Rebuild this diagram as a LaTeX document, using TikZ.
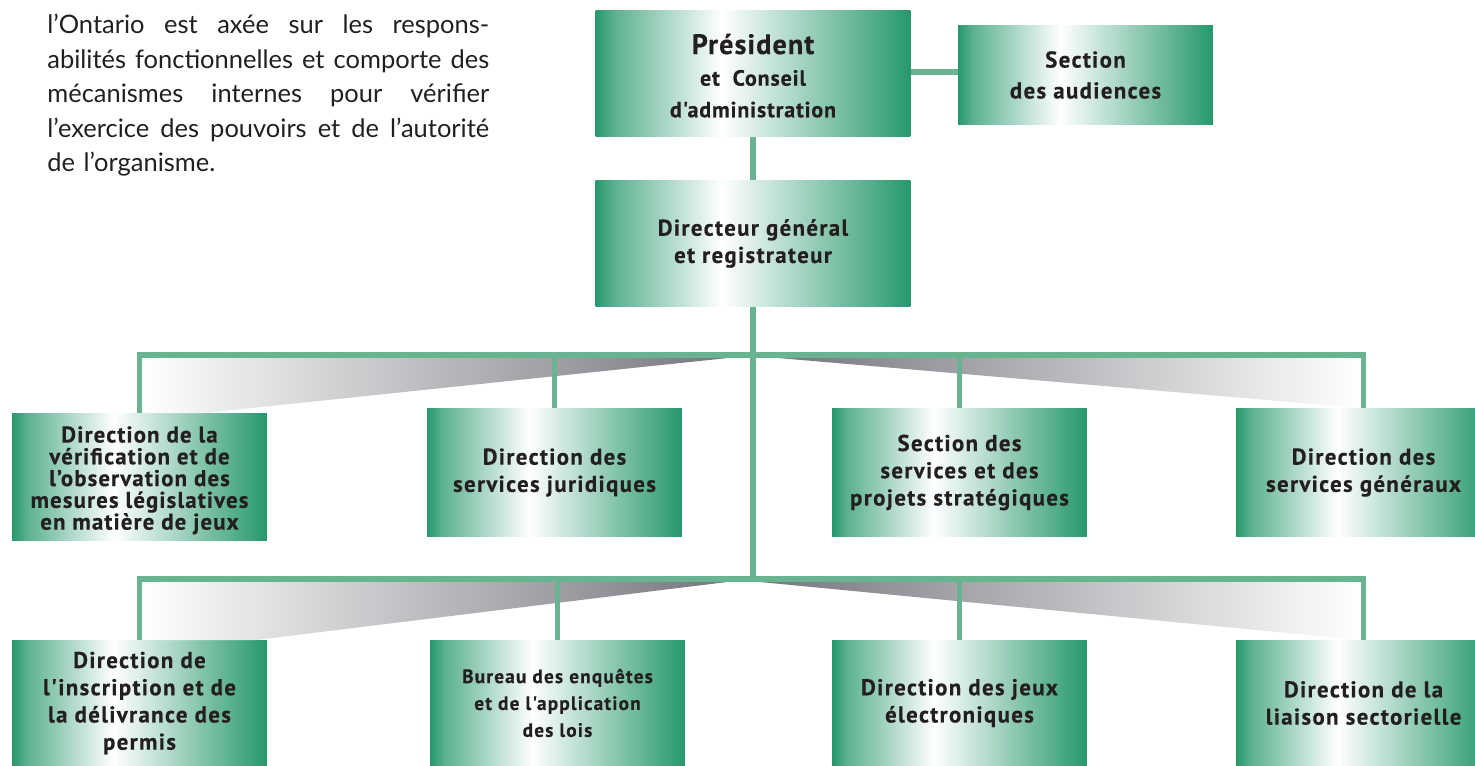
\documentclass[tikz,border=0pt]{standalone}
\usepackage{fontspec}
\setmainfont{Lato}
\newfontfamily\boxfont{PT Sans}
\usetikzlibrary{positioning}

\definecolor{boxgreen}{RGB}{38,152,108}
\definecolor{linkgreen}{RGB}{107,178,145}
\definecolor{inkgrey}{RGB}{35,31,32}
\definecolor{shadegrey}{RGB}{118,118,126}
\pgfdeclarehorizontalshading{boxshade}{100bp}{color(0bp)=(boxgreen); color(25bp)=(boxgreen); color(28bp)=(boxgreen!75!white); color(45bp)=(white); color(75bp)=(boxgreen); color(100bp)=(boxgreen)}
\newcommand\fullline[1]{\makebox[8.84cm][s]{\spaceskip=0.25em plus 1fil\relax #1}}

\begin{document}
\begin{tikzpicture}[x=0.02cm,y=-0.02cm,
  orgbox/.style={shading=boxshade, minimum width=5.1cm, minimum height=2.58cm,
    inner sep=0pt, align=center, text=inkgrey,
    font=\boxfont\bfseries\addfontfeatures{LetterSpace=6,FakeBold=0.4}\fontsize{13}{15.5}\selectfont},
  link/.style={draw=linkgreen, line width=3.4pt}]
 \useasboundingbox (0,0) rectangle (1475,765);
 % intro text
 \node[anchor=north west, inner sep=0pt, text width=8.84cm, align=left, text=inkgrey,
   font=\fontsize{14.5}{19.6}\selectfont] (intro) at (47,14)
   {\fullline{l’Ontario est axée sur les respons-}\\
    \fullline{abilités fonctionnelles et comporte des}\\
    \fullline{mécanismes internes pour vérifier}\\
    \fullline{l’exercice des pouvoirs et de l’autorité}\\
    de l’organisme.};
 % top of the chart
 \node[orgbox, minimum width=6.3cm, minimum height=2.54cm,
   font=\boxfont\bfseries\addfontfeatures{LetterSpace=4,FakeBold=0.4}\fontsize{12.5}{18}\selectfont]
   (pres) at (753,73.5)
   {\rule{0pt}{14pt}{\fontsize{16}{20}\selectfont Président}\\et\ \ Conseil\\d'administration};
 \node[orgbox, minimum height=2cm,
   font=\boxfont\bfseries\addfontfeatures{LetterSpace=6,FakeBold=0.4}\fontsize{13}{17.6}\selectfont]
   (aud) at (1085.5,75) {Section\\des audiences};
 \node[orgbox, minimum width=6.3cm, minimum height=2.54cm] (dg) at (753,243.5)
   {Directeur général\\et registrateur};
 % first row
 \node[orgbox, minimum height=2.56cm,
   font=\boxfont\bfseries\addfontfeatures{LetterSpace=5,FakeBold=0.4}\fontsize{13}{12.4}\selectfont]
   (d1) at (139.5,477) {\rule{0pt}{13pt}Direction de la\\vérification et de\\l’observation des\\mesures législatives\\en matière de jeux};
 \node[orgbox] (d2) at (554.5,472.5) {Direction des\\services juridiques};
 \node[orgbox] (d3) at (959.5,472.5) {Section des\\services et des\\projets stratégiques};
 \node[orgbox] (d4) at (1363.5,472.5) {Direction des\\services généraux};
 % second row
 \node[orgbox, minimum height=2.52cm] (d5) at (139.5,703)
   {Direction de\\l'inscription et de\\la délivrance des\\permis};
 \node[orgbox, minimum height=2.52cm,
   font=\boxfont\bfseries\addfontfeatures{LetterSpace=6,FakeBold=0.4}\fontsize{11}{15.3}\selectfont]
   (d6) at (557.5,703) {Bureau des enquêtes\\et de l'application\\des lois};
 \node[orgbox, minimum height=2.52cm] (d7) at (959.5,703) {Direction des jeux\\électroniques};
 \node[orgbox, minimum height=2.52cm] (d8) at (1363.5,703) {Direction de la\\liaison sectorielle};
 % bus lines
 \coordinate (bus1) at (753,355);
 \coordinate (bus2) at (753,579);
 \shade[left color=white, right color=shadegrey] (140,358) -- (728,358) -- (204,413) -- (140,413) -- cycle;
 \shade[left color=shadegrey, right color=white] (778,358) -- (1360,358) -- (1360,408) -- cycle;
 \shade[left color=white, right color=shadegrey] (140,582) -- (727,582) -- (256,640) -- (140,640) -- cycle;
 \shade[left color=shadegrey, right color=white] (760,582) -- (1360,582) -- (1360,640) -- cycle;
 \draw[link] (pres.east |- 0,72) -- (aud.west |- 0,72);
 \draw[link] (pres) -- (dg);
 \draw[link] (dg.south) -- (dg.south |- bus2);
 \draw[link] (d1.north) |- (bus1) -| (d4.north);
 \draw[link] (d2.north) -- (d2.north |- bus1);
 \draw[link] (d3.north) -- (d3.north |- bus1);
 \draw[link] (d5.north) |- (bus2) -| (d8.north);
 \draw[link] (d6.north) -- (d6.north |- bus2);
 \draw[link] (d7.north) -- (d7.north |- bus2);
\end{tikzpicture}
\end{document}
